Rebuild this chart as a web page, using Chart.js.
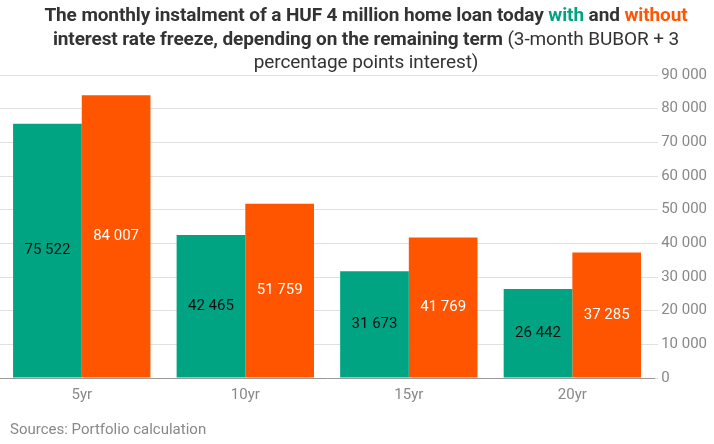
<!DOCTYPE html>
<html>
<head>
<meta charset="utf-8">
<script src="https://cdn.jsdelivr.net/npm/chart.js@4"></script>
<style>
  body { margin: 0; background: #fff; font-family: Roboto, sans-serif; }
  #wrap { position: relative; width: 714px; height: 444px; }
  #title { position: absolute; left: 9px; top: 3px; width: 714px; text-align: center;
           font-size: 19px; line-height: 23.5px; color: #333; letter-spacing: -0.1px; }
  #title b { font-weight: bold; }
  #title .g { color: #00a482; }
  #title .o { color: #ff5400; }
  #title .n { font-weight: normal; }
  #src { position: absolute; left: 10px; top: 420px; font-size: 15px; color: #888; }
  canvas { position: absolute; left: 0; top: 0; }
</style>
</head>
<body>
<div id="wrap">
  <canvas id="graf" width="714" height="444"></canvas>
  <div id="title"><b>The monthly instalment of a HUF 4 million home loan today <span class="g">with</span> and <span class="o">without</span><br>interest rate freeze, depending on the remaining term</b> <span class="n">(3-month BUBOR + 3<br>percentage points interest)</span></div>
  <div id="src">Sources: Portfolio calculation</div>
</div>
<script>
var kategorije = ['5yr', '10yr', '15yr', '20yr'];
var zZamrznitvijo = [75522, 42465, 31673, 26442];   // with freeze
var brezZamrznitve = [84007, 51759, 41769, 37285];  // without freeze

function fmt(v) { // 84007 -> "84 007"
    return String(v).replace(/\B(?=(\d{3})+(?!\d))/g, ' ');
}

// napisi na sredini stolpcev
var napisi = {
    id: 'napisi',
    afterDatasetsDraw: function (chart) {
        var ctx = chart.ctx;
        ctx.save();
        ctx.font = '15px Roboto';
        ctx.textAlign = 'center';
        ctx.textBaseline = 'middle';
        chart.data.datasets.forEach(function (ds, i) {
            chart.getDatasetMeta(i).data.forEach(function (bar, j) {
                ctx.fillStyle = i === 0 ? '#111' : '#fff';
                ctx.fillText(fmt(ds.data[j]), bar.x, (bar.y + bar.base) / 2);
            });
        });
        ctx.restore();
    }
};

var ctx = document.getElementById('graf').getContext('2d');
var myChart = new Chart(ctx, {
    type: 'bar',
    data: {
        labels: kategorije,
        datasets: [{
            label: 'with',
            data: zZamrznitvijo,
            backgroundColor: '#00a482'
        }, {
            label: 'without',
            data: brezZamrznitve,
            backgroundColor: '#ff5400'
        }]
    },
    options: {
        responsive: false,
        animation: false,
        layout: { padding: { top: 75, bottom: 40, left: 0, right: 4 } },
        plugins: { legend: { display: false }, tooltip: { enabled: false } },
        datasets: { bar: { categoryPercentage: 0.84, barPercentage: 1 } },
        scales: {
            x: {
                grid: { display: false },
                border: { color: '#999' },
                ticks: { color: '#888', font: { family: 'Roboto', size: 15 }, padding: 0 }
            },
            y: {
                position: 'right',
                min: 0, max: 90000,
                grid: { color: '#e0e0e0', drawTicks: true, tickLength: 4 },
                border: { display: false },
                ticks: {
                    stepSize: 10000, color: '#888', padding: 3,
                    font: { family: 'Roboto', size: 15 },
                    callback: function (v) { return fmt(v); }
                }
            }
        }
    },
    plugins: [napisi]
});
</script>
</body>
</html>
